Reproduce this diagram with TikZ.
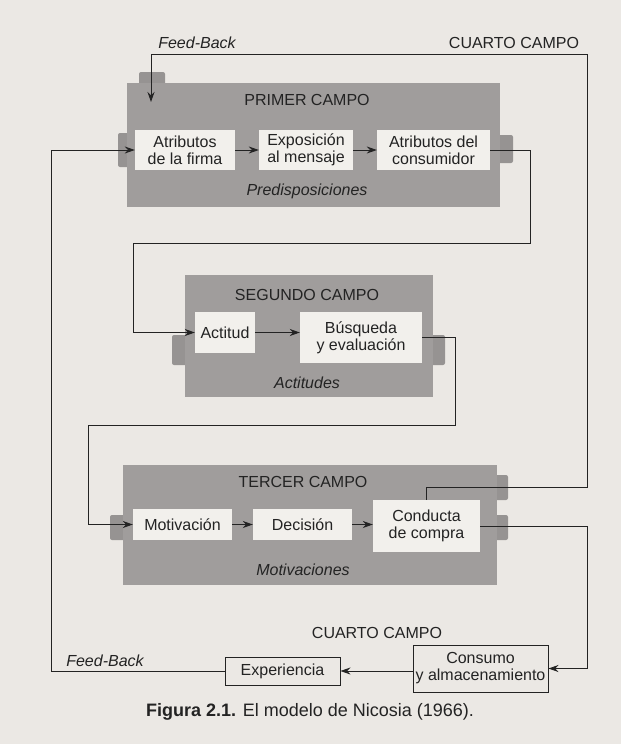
\documentclass[tikz,border=0pt]{standalone}
\usepackage{fontspec}
\setmainfont{Liberation Sans}
\usetikzlibrary{arrows.meta}
\definecolor{pagebg}{RGB}{235,232,228}
\definecolor{campogray}{RGB}{160,157,156}
\definecolor{tabgray}{RGB}{150,147,146}
\definecolor{inboxc}{RGB}{242,240,236}
\definecolor{ink}{RGB}{35,35,35}
\begin{document}
\begin{tikzpicture}[x=1pt,y=-1pt,
  every node/.style={text=ink, font=\fontsize{16}{17}\selectfont},
  innerbox/.style={fill=inboxc, inner sep=0pt, align=center},
  cuartobox/.style={draw=ink, line width=0.9pt, inner sep=0pt, align=center},
  conn/.style={draw=ink, line width=0.9pt},
  arr/.style={conn, -{Stealth[length=10pt,width=7pt]}},
  campotitle/.style={font=\fontsize{16}{17}\selectfont},
  campolabel/.style={font=\fontsize{16}{17}\selectfont\itshape},
  tabshape/.style={fill=tabgray, rounded corners=2pt},
  campobox/.style={fill=campogray}
]
% page
\fill[pagebg] (0,0) rectangle (621,744);
\useasboundingbox (0,0) rectangle (621,744);

% ---------- PRIMER CAMPO ----------
\fill[tabshape] (139,72) rectangle (165,90);
\fill[tabshape] (118,133) rectangle (132,167);
\fill[tabshape] (495,135) rectangle (513,163);
\fill[campobox] (127,83) rectangle (500,207);
\node[campotitle] (t1) at (307,100) {PRIMER CAMPO};
\node[innerbox, minimum width=100pt, minimum height=40pt] (firma) at (185,150) {Atributos\\de la firma};
\node[innerbox, minimum width=94pt, minimum height=40pt] (mensaje) at (306,150) {Exposición\\al mensaje};
\node[innerbox, minimum width=113pt, minimum height=40pt] (consumidor) at (433.5,150) {Atributos del\\consumidor};
\node[campolabel] (l1) at (307,191) {Predisposiciones};

% ---------- SEGUNDO CAMPO ----------
\fill[tabshape] (172,335) rectangle (190,365);
\fill[tabshape] (428,335) rectangle (445,365);
\fill[campobox] (185,275) rectangle (433,397);
\node[campotitle] (t2) at (307,295) {SEGUNDO CAMPO};
\node[innerbox, minimum width=60pt, minimum height=41pt] (actitud) at (225,332.5) {Actitud};
\node[innerbox, minimum width=122pt, minimum height=51pt] (busqueda) at (361,337.5) {Búsqueda\\y evaluación};
\node[campolabel] (l2) at (307,383) {Actitudes};

% ---------- TERCER CAMPO ----------
\fill[tabshape] (110,515) rectangle (128,540);
\fill[tabshape] (492,475) rectangle (508,500);
\fill[tabshape] (492,515) rectangle (508,540);
\fill[campobox] (123,465) rectangle (497,585);
\node[campotitle] (t3) at (303,482) {TERCER CAMPO};
\node[innerbox, minimum width=99pt, minimum height=31pt] (motivacion) at (182.5,524.5) {Motivación};
\node[innerbox, minimum width=99pt, minimum height=31pt] (decision) at (302.5,524.5) {Decisión};
\node[innerbox, minimum width=107pt, minimum height=52pt] (conducta) at (426.5,526) {Conducta\\de compra};
\node[campolabel] (l3) at (303,570) {Motivaciones};

% ---------- CUARTO CAMPO ----------
\node[campotitle] (t4top) at (514,43) {CUARTO CAMPO};
\node[campolabel] (fbtop) at (197,43) {Feed-Back};
\node[campotitle] (t4) at (377,633) {CUARTO CAMPO};
\node[cuartobox, minimum width=115pt, minimum height=28pt] (experiencia) at (282.5,671) {Experiencia};
\node[cuartobox, minimum width=135pt, minimum height=47pt] (consumo) at (480.5,668.5) {Consumo\\y almacenamiento};
\node[campolabel] (fbbot) at (105,661) {Feed-Back};

% caption
\node[font=\fontsize{18}{20}\selectfont] (caption) at (310,712) {\textbf{Figura 2.1.} El modelo de Nicosia (1966).};

% ---------- bend coordinates ----------
\coordinate (rA) at (530,243);
\coordinate (lA) at (133,243);
\coordinate (rB) at (455,425);
\coordinate (lB) at (88,425);
\coordinate (upR) at (587,487);
\coordinate (topR) at (587,54);
\coordinate (fbin) at (151,102);
\coordinate (rx) at (587,0);
\coordinate (lx) at (51,0);

% ---------- connectors ----------
\draw[arr] (firma) -- (mensaje);
\draw[arr] (mensaje) -- (consumidor);
\draw[conn] (consumidor.east) -| (rA) -- (lA);
\draw[arr] (lA) |- (actitud.west);
\draw[arr] (actitud.east) -- (actitud.east -| busqueda.west);
\draw[conn] (busqueda.east) -| (rB) -- (lB);
\draw[arr] (lB) |- (motivacion.west);
\draw[arr] (motivacion) -- (decision);
\draw[arr] (decision.east) -- (decision.east -| conducta.west);
\draw[arr] (conducta.north) |- (upR) -- (topR) -| (fbin);
\draw[arr] (conducta.east) -- (conducta.east -| rx) |- (consumo.east);
\draw[arr] (consumo.west |- experiencia.east) -- (experiencia.east);
\draw[arr] (experiencia.west) -| (firma.west -| lx) -- (firma.west);
\end{tikzpicture}
\end{document}
